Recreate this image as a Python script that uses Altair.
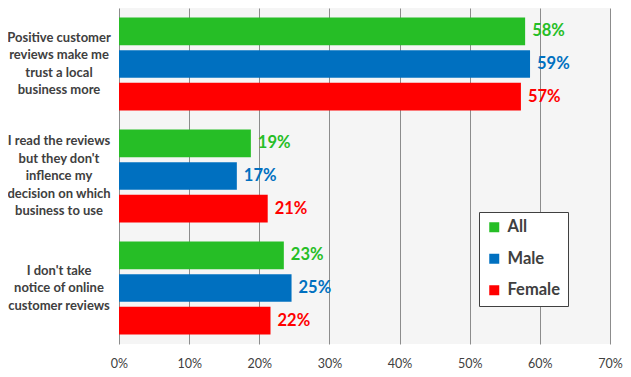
import altair as alt
import pandas as pd

categories = [
    "Positive customer|reviews make me|trust a local|business more",
    "I read the reviews|but they don't|inflence my|decision on which|business to use",
    "I don't take|notice of online|customer reviews",
]
series = ["All", "Male", "Female"]
all_vals = [57.9, 18.8, 23.5]
male_vals = [58.6, 16.8, 24.6]
female_vals = [57.3, 21.2, 21.6]
all_labels = ["58%", "19%", "23%"]
male_labels = ["59%", "17%", "25%"]
female_labels = ["57%", "21%", "22%"]
colors = ["#26BE26", "#0070C0", "#FF0000"]
x_ticks = [0, 10, 20, 30, 40, 50, 60, 70]

rows = []
for i, c in enumerate(categories):
    for s, vals, labs in zip(series, [all_vals, male_vals, female_vals],
                             [all_labels, male_labels, female_labels]):
        rows.append({"category": c, "series": s, "value": vals[i], "label": labs[i]})
df = pd.DataFrame(rows)

FONT = "Lato"
LH = 17.5
color_scale = alt.Scale(domain=series, range=colors)
y_scale = alt.Scale(domain=categories, paddingInner=0.17, paddingOuter=0.085)

base = alt.Chart(df).encode(
    y=alt.Y("category:N", sort=categories, scale=y_scale, axis=None),
    yOffset=alt.YOffset("series:N", sort=series,
                        scale=alt.Scale(domain=series, paddingInner=0.15, paddingOuter=0)),
    x=alt.X(
        "value:Q",
        scale=alt.Scale(domain=[0, 70]),
        axis=alt.Axis(
            title=None,
            values=x_ticks,
            labelExpr="datum.value + '%'",
            labelFontSize=12.5,
            labelColor="#404040",
            labelFont=FONT,
            labelPadding=13,
            labelFlush=False,
            ticks=False,
            domain=False,
            grid=True,
            gridColor="#8c8c8c",
            gridWidth=1,
        ),
    ),
)

bars = base.mark_bar().encode(
    color=alt.Color(
        "series:N",
        sort=series,
        scale=color_scale,
        legend=alt.Legend(
            title=None,
            orient="none",
            legendX=360,
            legendY=204,
            fillColor="white",
            strokeColor="#404040",
            padding=7,
            symbolType="square",
            symbolSize=100,
            symbolStrokeWidth=0,
            symbolOpacity=1,
            labelFontSize=16.5,
            labelFontWeight="bold",
            labelFont=FONT,
            labelColor="#404040",
            labelOffset=5,
            rowPadding=14.5,
        ),
    )
)

text = base.mark_text(align="left", baseline="middle", dx=7, fontWeight="bold",
                      fontSize=16.5, font=FONT).encode(
    text="label:N",
    color=alt.Color("series:N", sort=series, scale=color_scale, legend=None),
)

cat_layers = []
for c in categories:
    lines = c.split("|")
    cdf = pd.DataFrame({"category": [c], "lines": [lines]})
    n = len(lines)
    cat_layers.append(
        alt.Chart(cdf)
        .mark_text(align="center", baseline="middle", fontSize=13, fontWeight="bold",
                   font=FONT, color="#404040", lineHeight=LH, dy=-(n - 1) * LH / 2)
        .encode(
            y=alt.Y("category:N", sort=categories, scale=y_scale, axis=None),
            x=alt.value(-60),
            text=alt.Text("lines:N"),
        )
    )

chart = (
    alt.layer(bars, text, *cat_layers)
    .properties(
        width=491,
        height=336,
        autosize=alt.AutoSizeParams(type="none"),
        padding={"left": 111, "top": 0, "right": 13, "bottom": 30},
        background="white",
    )
    .configure_view(fill="#f5f5f5", strokeWidth=0)
)

chart.save("out.html", embed_options={"renderer": "svg", "actions": False})
